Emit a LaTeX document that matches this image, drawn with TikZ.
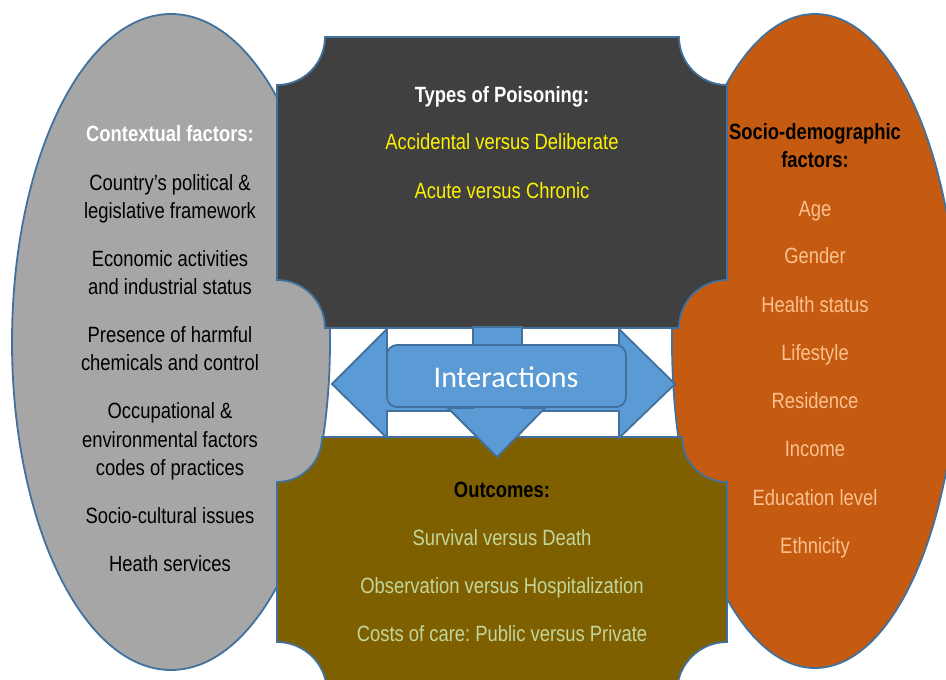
\documentclass[tikz,border=0pt]{standalone}
\usepackage{fontspec}
\setmainfont{Liberation Sans}
\newfontfamily\calfont{Carlito}
\usepackage{graphicx}
\frenchspacing
\definecolor{edgeblue}{HTML}{41719C}
\definecolor{arrowblue}{HTML}{5B9BD5}
\definecolor{ctxgray}{HTML}{A6A6A6}
\definecolor{darkbox}{HTML}{404040}
\definecolor{brownbox}{HTML}{7F6000}
\definecolor{orangeel}{HTML}{C55A11}
\definecolor{greentext}{HTML}{C3D69B}
\definecolor{peachtext}{HTML}{FAC090}
\newcommand{\ys}[1]{\scalebox{1}[1.2]{#1}}
\tikzset{
  shapeline/.style={draw=edgeblue, line width=1.8pt, line join=miter},
  txt/.style={anchor=base, inner sep=0pt, font=\fontsize{18.4}{22}\selectfont},
}
\begin{document}
\begin{tikzpicture}[x=1pt,y=1pt]
\useasboundingbox (0,0) rectangle (946,-680);
\clip (0,0) rectangle (946,-680);
\fill[white] (0,0) rectangle (946,-680);

% side ellipses
\draw[shapeline, fill=ctxgray] (171,-342) ellipse [x radius=159, y radius=328];
\draw[shapeline, fill=orangeel] (815,-341) ellipse [x radius=143, y radius=327];

% top plaque (types of poisoning)
\draw[shapeline, fill=darkbox]
  (325,-37) -- (679,-37) arc[start angle=180, end angle=270, radius=48]
  -- (727,-280) arc[start angle=90, end angle=180, radius=48]
  -- (325,-328) arc[start angle=0, end angle=90, radius=48]
  -- (277,-85) arc[start angle=270, end angle=360, radius=48] -- cycle;

% bottom plaque (outcomes)
\draw[shapeline, fill=brownbox]
  (322,-437) -- (682,-437) arc[start angle=180, end angle=270, radius=45]
  -- (727,-642) arc[start angle=90, end angle=180, radius=50]
  -- (327,-692) arc[start angle=0, end angle=90, radius=50]
  -- (277,-482) arc[start angle=270, end angle=360, radius=45] -- cycle;

% left-right arrow
\draw[shapeline, fill=arrowblue]
  (332,-384) -- (387,-329) -- (387,-357) -- (619,-357) -- (619,-329)
  -- (675,-384) -- (619,-438) -- (619,-411) -- (387,-411) -- (387,-438) -- cycle;
% down arrow
\draw[shapeline, fill=arrowblue]
  (473,-327) -- (522,-327) -- (522,-408) -- (545,-408) -- (497,-457)
  -- (448,-408) -- (473,-408) -- cycle;
% interactions label
\draw[shapeline, fill=arrowblue, rounded corners=10pt] (387,-345) rectangle (626,-407);
\node[anchor=center, inner sep=0pt, text=white, font=\calfont\fontsize{30}{35}\selectfont] (inter) at (506,-377) {Interactions};

% left column
\node[txt, text=white] (ctx) at (170,-141) {\ys{\bfseries Contextual factors:}};
\node[txt] (c1a) at (170,-190) {\ys{Country’s political \&}};
\node[txt] (c1b) at (170,-218) {\ys{legislative framework}};
\node[txt] (c2a) at (170,-266) {\ys{Economic activities}};
\node[txt] (c2b) at (170,-294) {\ys{and industrial status}};
\node[txt] (c3a) at (170,-342) {\ys{Presence of harmful}};
\node[txt] (c3b) at (170,-370) {\ys{chemicals and control}};
\node[txt] (c4a) at (170,-418) {\ys{Occupational \&}};
\node[txt] (c4b) at (170,-447) {\ys{environmental factors}};
\node[txt] (c4c) at (170,-475) {\ys{codes of practices}};
\node[txt] (c5) at (170,-523) {\ys{Socio-cultural issues}};
\node[txt] (c6) at (170,-571) {\ys{Heath services}};

% top box
\node[txt, text=white] (types) at (502,-102) {\ys{\bfseries Types of Poisoning:}};
\node[txt, text=yellow] (t1) at (502,-149) {\ys{Accidental versus Deliberate}};
\node[txt, text=yellow] (t2) at (502,-198) {\ys{Acute versus Chronic}};

% bottom box
\node[txt, text=black] (outc) at (502,-497) {\ys{\bfseries Outcomes:}};
\node[txt, text=greentext] (o1) at (502,-545) {\ys{Survival versus Death}};
\node[txt, text=greentext] (o2) at (502,-593) {\ys{Observation versus Hospitalization}};
\node[txt, text=greentext] (o3) at (502,-641) {\ys{Costs of care: Public versus Private}};

% right column
\node[txt, text=black] (soc1) at (815,-139) {\ys{\bfseries Socio-demographic}};
\node[txt, text=black] (soc2) at (815,-167) {\ys{\bfseries factors:}};
\node[txt, text=peachtext] (r1) at (815,-216) {\ys{Age}};
\node[txt, text=peachtext] (r2) at (815,-263) {\ys{Gender}};
\node[txt, text=peachtext] (r3) at (815,-312) {\ys{Health status}};
\node[txt, text=peachtext] (r4) at (815,-360) {\ys{Lifestyle}};
\node[txt, text=peachtext] (r5) at (815,-408) {\ys{Residence}};
\node[txt, text=peachtext] (r6) at (815,-456) {\ys{Income}};
\node[txt, text=peachtext] (r7) at (815,-505) {\ys{Education level}};
\node[txt, text=peachtext] (r8) at (815,-553) {\ys{Ethnicity}};
\end{tikzpicture}
\end{document}
